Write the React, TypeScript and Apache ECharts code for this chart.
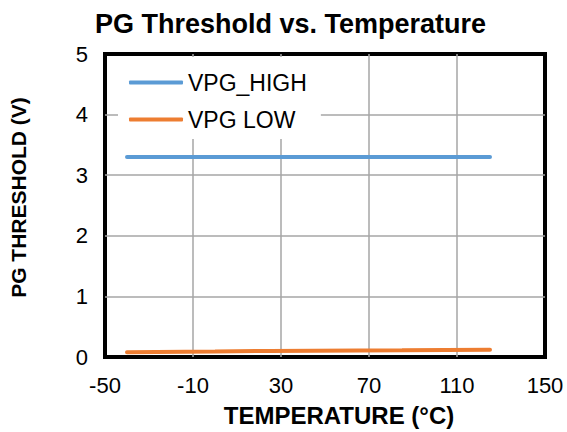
import React, { useEffect, useRef } from "react";
import * as echarts from "echarts";

const temperatures = [-40, 0, 25, 85, 125];
const vpgHigh = [3.3, 3.3, 3.3, 3.3, 3.3];
const vpgLow = [0.08, 0.09, 0.1, 0.11, 0.12];
const seriesNames = ["VPG_HIGH", "VPG LOW"];
const seriesColors = ["#5B9BD5", "#ED7D31"];

const FONT = "'Liberation Sans', Arial, sans-serif";

export default function App() {
  const ref = useRef<HTMLDivElement>(null);
  useEffect(() => {
    if (!ref.current) return;
    const chart = echarts.init(ref.current, undefined, { renderer: "svg" });
    const mk = (vals: number[]) => temperatures.map((t, i) => [t, vals[i]]);
    chart.setOption({
      animation: false,
      backgroundColor: "#ffffff",
      textStyle: { fontFamily: FONT },
      title: {
        text: "PG Threshold vs. Temperature",
        left: 95,
        top: 10,
        padding: 0,
        textStyle: { fontFamily: FONT, fontSize: 27, fontWeight: "bold", color: "#000" },
      },
      grid: {
        left: 105,
        right: 22,
        top: 54,
        bottom: 74,
        show: true,
        borderColor: "#000",
        borderWidth: 4,
        backgroundColor: "transparent",
      },
      legend: {
        orient: "vertical",
        left: 118,
        top: 57,
        backgroundColor: "#ffffff",
        padding: [14, 14, 8, 11],
        itemGap: 14,
        itemWidth: 54,
        itemHeight: 4,
        icon: "roundRect",
        data: seriesNames,
        textStyle: { fontFamily: FONT, fontSize: 23, color: "#000" },
      },
      xAxis: {
        type: "value",
        min: -50,
        max: 150,
        interval: 40,
        name: "TEMPERATURE (°C)",
        nameLocation: "middle",
        nameGap: 46,
        nameTextStyle: {
          fontFamily: FONT,
          fontSize: 24,
          fontWeight: "bold",
          color: "#000",
          padding: [0, 0, 0, 28],
        },
        axisLine: { show: false },
        axisTick: { show: false },
        axisLabel: { fontFamily: FONT, fontSize: 22, color: "#000", margin: 17 },
        splitLine: {
          show: true,
          showMinLine: false,
          showMaxLine: false,
          lineStyle: { color: "#A6A6A6", width: 1.5 },
        },
      },
      yAxis: {
        type: "value",
        min: 0,
        max: 5,
        interval: 1,
        name: "PG THRESHOLD (V)",
        nameLocation: "middle",
        nameGap: 76,
        nameRotate: 90,
        nameTextStyle: {
          fontFamily: FONT,
          fontSize: 21,
          fontWeight: "bold",
          color: "#000",
          padding: [0, 0, 0, 16],
        },
        axisLine: { show: false },
        axisTick: { show: false },
        axisLabel: { fontFamily: FONT, fontSize: 22, color: "#000", margin: 17 },
        splitLine: {
          show: true,
          showMinLine: false,
          showMaxLine: false,
          lineStyle: { color: "#A6A6A6", width: 1.5 },
        },
      },
      series: [
        {
          name: seriesNames[0],
          type: "line",
          data: mk(vpgHigh),
          showSymbol: false,
          color: seriesColors[0],
          lineStyle: { width: 4, color: seriesColors[0], cap: "round" },
          z: 3,
        },
        {
          name: seriesNames[1],
          type: "line",
          data: mk(vpgLow),
          showSymbol: false,
          color: seriesColors[1],
          lineStyle: { width: 4, color: seriesColors[1], cap: "round" },
          z: 3,
        },
      ],
    });
    return () => chart.dispose();
  }, []);
  return <div ref={ref} style={{ width: 567, height: 432, position: "fixed", left: 0, top: 0 }} />;
}
